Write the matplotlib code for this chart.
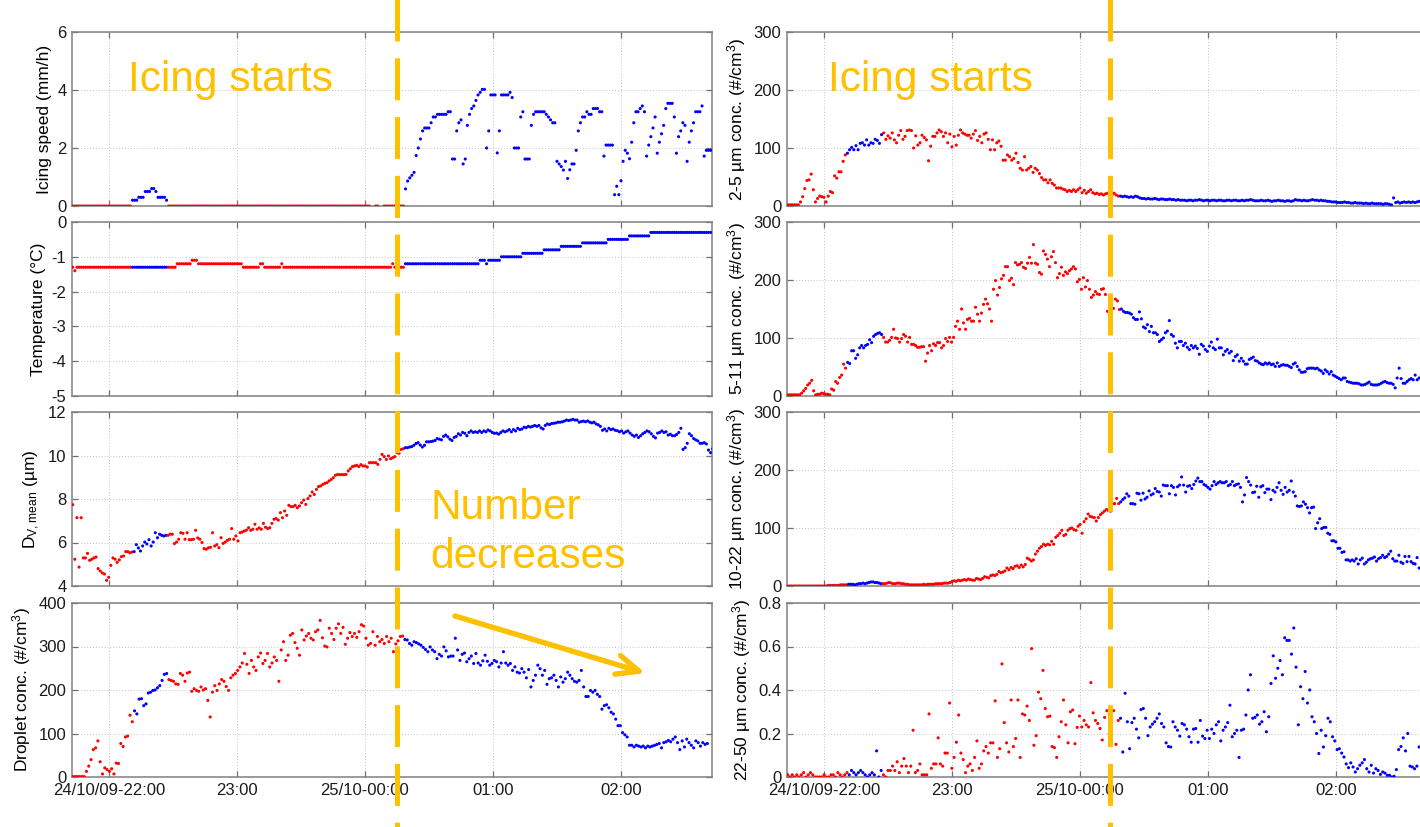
#!/usr/bin/env python3
"""
Icing event 24/25 Oct 2009: icing speed, temperature, droplet size and
droplet number concentrations, red = no icing, blue = icing.
"""
import numpy as np
import matplotlib
matplotlib.use('Agg')
import matplotlib.pyplot as plt
from matplotlib.lines import Line2D

plt.rcParams['font.family'] = ['Liberation Sans', 'DejaVu Sans']
plt.rcParams['mathtext.default'] = 'regular'
plt.rcParams['axes.unicode_minus'] = False

# ---------------------------------------------------------------- data
T0 = np.datetime64('2009-10-24T21:43')
BLUE_SPANS = [('2009-10-24T22:11', '2009-10-24T22:27:30'),
              ('2009-10-25T00:18:30', '2009-10-25T03:00')]
XTICKS = ['2009-10-24T22:00', '2009-10-24T23:00', '2009-10-25T00:00',
          '2009-10-25T01:00', '2009-10-25T02:00']
XTICK_LABELS = ['24/10/09-22:00', '23:00', '25/10-00:00', '01:00', '02:00']
XLIM = ('2009-10-24T21:42:40', '2009-10-25T02:42:40')


def expand(runs):
    return [v for v, n in runs for _ in range(n)]


# icing speed (mm/h), one value per minute
ICE_BUMP = [0.2, 0.2, 0.2, 0.3, 0.3, 0.3, 0.5, 0.5, 0.5, 0.6, 0.6, 0.5, 0.3, 0.3, 0.3, 0.3, 0.2]
ICE_AFTER = [0.59, 0.86, 0.97, 1.06, 1.16, 1.74, 2.0, 2.31, 2.59, 2.69, 2.69, 2.69, 2.87, 3.07, 3.07,
             3.16, 3.16, 3.16, 3.16, 3.16, 3.25, 3.25, 1.62, 1.62, 2.59, 2.87, 2.97, 1.45, 1.62, 2.78,
             3.16, 3.36, 3.45, 3.64, 3.83, 3.92, 4.02, 4.02, 2.0, 2.59, 3.83, 3.83, 3.83, 1.83, 2.59,
             3.83, 3.83, 3.83, 3.83, 3.92, 3.74, 2.0, 2.0, 2.0, 3.07, 3.25, 1.62, 1.62, 1.62, 2.78,
             3.16, 3.25, 3.25, 3.25, 3.25, 3.25, 3.16, 3.07, 2.97, 2.87, 2.87, 1.54, 1.45, 1.36, 1.24,
             1.54, 0.95, 1.25, 1.45, 1.45, 1.92, 2.59, 2.87, 3.07, 3.07, 3.25, 3.16, 3.16, 3.36, 3.36,
             3.36, 3.25, 3.25, 1.72, 2.1, 2.1, 2.1, 2.1, 0.39, 0.68, 0.39, 0.87, 1.54, 1.92, 1.82,
             1.63, 2.2, 2.87, 3.25, 3.25, 3.36, 3.45, 3.25, 1.72, 2.1, 2.39, 2.69, 3.07, 1.82, 2.2,
             2.49, 2.78, 3.36, 3.54, 3.54, 3.54, 3.07, 1.82, 2.39, 2.59, 2.87, 2.78, 1.54, 2.2, 2.59,
             2.87, 3.25, 3.25, 3.25, 3.45, 1.72, 1.92, 1.92, 1.92]
ICE_SPEED = (expand([(0.0, 28)]) + ICE_BUMP
             + expand([(0.0, 95), (np.nan, 2), (0.0, 2), (np.nan, 2), (0.0, 10)]) + ICE_AFTER)

# temperature (deg C), one value per minute, as (value, count) runs
TEMP_RUNS = [(-1.3, 1), (-1.4, 1), (-1.3, 47), (-1.2, 7), (-1.1, 3), (-1.2, 21), (-1.3, 8),
             (-1.2, 2), (-1.3, 8), (-1.2, 1), (-1.3, 51), (-1.2, 1), (-1.3, 5), (-1.2, 35),
             (-1.1, 3), (-1.2, 1), (-1.1, 6), (-1.0, 10), (-0.9, 10), (-0.8, 8), (-0.7, 10),
             (-0.6, 12), (-0.5, 10), (-0.4, 10), (-0.3, 29)]
TEMPERATURE = expand(TEMP_RUNS)

# median volume diameter (um)
DV_MEAN = [7.74, 5.23, 7.14, 4.87, 7.14, 5.29, 5.29, 5.50, 5.18, 5.23, 5.29, 5.33, 4.80, 4.69, 4.60,
           4.55, 4.26, 4.40, 4.95, 5.29, 5.23, 5.09, 5.20, 5.35, 5.38, 5.58, 5.58, 5.53, 5.56, 5.58,
           5.90, 5.75, 5.61, 5.84, 6.02, 5.93, 6.13, 5.84, 6.02, 6.45, 6.22, 6.38, 6.33, 6.30, 6.33,
           6.33, 6.38, 6.38, 5.95, 6.02, 6.15, 6.45, 6.42, 6.15, 6.45, 6.13, 6.13, 6.15, 6.56, 6.21,
           6.15, 6.00, 5.72, 5.69, 5.75, 5.78, 6.45, 5.84, 5.90, 5.76, 6.22, 5.96, 6.02, 6.10, 6.15,
           6.64, 6.15, 6.30, 6.07, 6.45, 6.48, 6.53, 6.57, 6.68, 6.56, 6.61, 6.84, 6.61, 6.67, 6.61,
           6.88, 6.70, 6.64, 6.68, 6.88, 7.07, 7.10, 7.03, 7.37, 7.14, 7.45, 7.25, 7.71, 7.65, 7.65,
           7.71, 7.60, 7.68, 7.83, 7.95, 7.75, 8.02, 8.14, 8.32, 8.21, 8.44, 8.57, 8.60, 8.67, 8.72,
           8.75, 8.83, 8.90, 8.98, 9.09, 9.13, 9.12, 9.12, 9.12, 9.13, 9.29, 9.39, 9.49, 9.52, 9.55,
           9.49, 9.58, 9.52, 9.52, 9.47, 9.67, 9.67, 9.67, 9.67, 9.59, 9.82, 10.05, 9.95, 9.82, 9.98,
           9.85, 9.90, 9.95, 10.13, 10.10,
           10.28, 10.31, 10.36, 10.36, 10.39, 10.41, 10.47, 10.55, 10.59, 10.48, 10.39, 10.47, 10.63,
           10.63, 10.64, 10.66, 10.69, 10.78, 10.75, 10.72, 10.88, 10.94, 10.86, 10.75, 10.69, 10.83,
           10.88, 11.0, 10.94, 11.06, 11.02, 10.91, 11.06, 11.13, 11.06, 11.09, 11.06, 11.13, 11.06,
           11.13, 11.09, 11.17, 11.13, 11.06, 11.02, 11.03, 10.98, 11.06, 11.13, 11.09, 11.13, 11.19,
           11.09, 11.19, 11.13, 11.25, 11.19, 11.22, 11.30, 11.28, 11.34, 11.31, 11.34, 11.38, 11.34,
           11.38, 11.27, 11.22, 11.38, 11.45, 11.42, 11.47, 11.48, 11.50, 11.53, 11.53, 11.55, 11.58,
           11.63, 11.61, 11.63, 11.66, 11.63, 11.63, 11.53, 11.56, 11.58, 11.55, 11.59, 11.53, 11.50,
           11.53, 11.45, 11.41, 11.34, 11.16, 11.22, 11.13, 11.25, 11.19, 11.22, 11.16, 11.14, 11.09,
           11.13, 11.03, 11.09, 11.13, 11.03, 10.94, 10.88, 10.94, 10.83, 10.91, 11.0, 11.06, 11.13,
           11.09, 11.0, 10.88, 10.81, 11.03, 11.06, 11.13, 11.06, 11.09, 10.94, 10.98, 10.91, 10.91,
           10.97, 11.06, 11.25, 10.28, 10.36, 10.56, 11.0, 10.91, 10.78, 10.72, 10.67, 10.56, 10.56,
           10.59, 10.53, 10.25, 10.13, 10.31]

# total droplet concentration (#/cm3)
DROPLET = [1, 1, 1, 1, 1, 1, 13, 25, 40, 63, 67, 83, 35, 7, 21, 17, 13, 19, 7, 32, 31, 77, 70, 92,
           94, 142, 127, 152, 145, 179, 180, 164, 168, 193, 195, 199, 200, 205, 210, 222, 236, 238,
           224, 222, 220, 214, 213, 238, 234, 220, 239, 241, 197, 203, 199, 197, 207, 200, 203, 176,
           138, 195, 210, 199, 214, 224, 220, 208, 199, 228, 234, 238, 245, 253, 262, 284, 259, 238,
           268, 253, 245, 276, 285, 261, 268, 284, 253, 262, 276, 268, 220, 292, 311, 268, 280, 326,
           330, 309, 296, 280, 338, 315, 324, 330, 319, 315, 334, 338, 360, 320, 301, 299, 342, 330,
           316, 342, 352, 330, 344, 305, 319, 332, 323, 330, 321, 334, 350, 347, 319, 303, 307, 334,
           303, 323, 311, 316, 307, 323, 311, 319, 288, 306, 313, 323, 324, 316, 315, 307, 303, 311,
           309, 306, 303, 298, 293, 288, 299, 292, 288, 272, 282, 278, 299, 290, 276, 278, 278, 319,
           292, 268, 282, 285, 265, 272, 278, 261, 284, 262, 257, 267, 280, 266, 257, 261, 268, 265,
           253, 262, 288, 262, 257, 261, 245, 253, 241, 239, 249, 241, 228, 247, 207, 222, 234, 257,
           249, 234, 245, 213, 226, 228, 234, 222, 207, 230, 218, 226, 241, 234, 226, 220, 218, 222,
           245, 207, 185, 185, 199, 195, 199, 190, 185, 156, 164, 166, 159, 149, 145, 133, 118, 118,
           102, 97, 92, 73, 73, 69, 73, 71, 69, 71, 67, 71, 69, 71, 73, 75, 77, 67, 79, 81, 84, 81,
           87, 92, 79, 63, 83, 69, 87, 79, 73, 67, 83, 79, 71, 79, 75, 77]

# 2-5 um concentration (#/cm3)
CONC_2_5 = [2, 2, 2, 2, 2, 2, 7, 16, 30, 44, 45, 55, 28, 7, 13, 17, 16, 15, 7, 17, 25, 23, 52, 48,
            59, 59, 77, 88, 91, 97, 101, 97, 104, 97, 108, 109, 105, 114, 105, 109, 108, 115, 113,
            108, 123, 126, 115, 121, 117, 126, 114, 109, 122, 130, 115, 120, 130, 131, 130, 100,
            121, 105, 109, 122, 118, 114, 78, 103, 120, 120, 126, 131, 128, 120, 126, 109, 124,
            102, 120, 105, 122, 131, 126, 124, 122, 122, 117, 124, 130, 113, 120, 109, 124, 126,
            115, 97, 114, 97, 109, 112, 103, 79, 79, 88, 85, 79, 82, 91, 75, 65, 62, 85, 62, 65, 68,
            58, 65, 62, 56, 49, 45, 45, 40, 45, 39, 36, 31, 31, 31, 29, 28, 25, 27, 25, 28, 25, 28,
            31, 23, 27, 22, 25, 28, 23, 21, 22, 20, 21, 19, 21, 22, 20, 19, 22, 19,
            17, 17, 16, 17, 16, 15, 16, 15, 17, 16, 14, 13, 13, 12, 13, 12, 12, 13, 12, 11, 12,
            12, 11, 11, 12, 11, 11, 10, 11, 10, 10, 10, 9, 10, 10, 9, 10, 10, 11, 10, 9, 10, 10, 9,
            10, 10, 9, 10, 10, 9, 9, 10, 10, 9, 10, 10, 9, 9, 10, 9, 10, 10, 11, 10, 9, 9, 9, 10, 9,
            9, 10, 9, 8, 9, 9, 10, 9, 9, 8, 9, 9, 8, 9, 11, 10, 10, 9, 10, 9, 9, 10, 11, 10, 10, 9,
            10, 9, 9, 8, 8, 7, 7, 7, 6, 6, 6, 7, 6, 6, 5, 5, 6, 5, 5, 5, 4, 5, 4, 4, 5, 4, 4, 4, 4,
            3, 4, 4, 3, 2, 14, 6, 7, 5, 6, 7, 6, 7, 6, 7, 6, 7, 8, 7, 6, 7]

# 5-11 um concentration (#/cm3)
CONC_5_11 = [2, 2, 2, 2, 2, 2, 2, 5, 9, 13, 19, 22, 27, 9, 2, 3, 3, 5, 4, 3, 3, 2, 12, 10, 25, 22,
             32, 36, 55, 48, 58, 56, 78, 78, 65, 71, 83, 87, 83, 87, 89, 97, 92, 103, 106, 108, 109,
             106, 101, 93, 93, 96, 101, 115, 100, 99, 93, 99, 106, 103, 93, 101, 89, 89, 87, 84, 84,
             85, 85, 60, 74, 87, 78, 90, 87, 92, 92, 83, 87, 99, 94, 101, 93, 101, 120, 129, 115,
             150, 126, 115, 132, 134, 129, 129, 153, 141, 129, 143, 158, 167, 159, 150, 129, 184,
             199, 174, 187, 202, 208, 223, 223, 199, 203, 192, 230, 226, 227, 230, 222, 220, 229,
             239, 229, 261, 229, 227, 213, 210, 250, 244, 236, 223, 240, 249, 230, 204, 211, 222,
             208, 214, 211, 216, 219, 223, 219, 197, 201, 184, 204, 188, 199, 184, 170, 174, 180,
             176, 175, 184, 185, 175, 146, 161, 157, 151, 167, 164, 149, 150, 146, 144, 144, 143,
             141, 135, 132, 132, 145, 133, 119, 117, 123, 111, 120, 109, 109, 106, 94, 97, 100, 109,
             112, 130, 106, 103, 91, 83, 94, 94, 87, 91, 84, 80, 87, 83, 86, 82, 72, 89, 86, 80, 77,
             86, 93, 83, 80, 98, 83, 83, 71, 77, 80, 74, 77, 61, 68, 71, 60, 65, 60, 55, 55, 63, 65,
             67, 61, 60, 57, 55, 54, 57, 55, 57, 54, 55, 51, 57, 51, 53, 54, 53, 53, 51, 49, 55, 57,
             51, 45, 41, 41, 42, 47, 48, 48, 48, 47, 48, 45, 43, 39, 45, 42, 38, 42, 36, 34, 32, 30,
             28, 31, 31, 25, 24, 23, 22, 22, 22, 21, 19, 19, 20, 22, 24, 20, 19, 19, 19, 20, 22, 24,
             25, 23, 22, 22, 20, 14, 31, 48, 30, 22, 22, 25, 28, 30, 28, 36, 28, 31]

# 10-22 um concentration (#/cm3)
CONC_10_22 = [0, 0, 0, 0, 0, 0, 0, 0, 0, 0, 0, 0, 0, 0, 0, 0, 0, 0, 0, 0, 1, 1, 1, 1,
              1, 1, 2, 2, 2, 2, 3, 3, 3, 2, 3, 4, 4, 5, 4, 5, 6, 7, 7, 6,
              6, 5, 4, 4, 4, 5, 6, 5, 4, 4, 5, 5, 4, 4, 3, 3, 2, 2, 2,
              2, 2, 2, 2, 3, 2, 3, 3, 3, 3, 4, 4, 4, 4, 5, 5, 5, 6, 8,
              9, 8, 10, 9, 10, 11, 10, 12, 11, 10, 10, 13, 12, 11, 13, 16, 15, 14, 18, 19, 18, 20,
              25, 23, 24, 26, 31, 28, 32, 30, 34, 35, 32, 36, 33, 37, 48, 46, 43, 45, 55,
              60, 65, 68, 72, 70, 72, 71, 77, 72, 84, 87, 91, 96, 87, 89, 96, 99, 100, 97, 96, 103,
              106, 91, 111, 116, 124, 120, 119,
              118, 112, 118, 123, 126, 129, 132, 130, 129, 142, 142, 151, 142, 145, 149, 152, 159,
              155, 142, 142, 141, 160, 159, 148, 160, 150, 153, 164, 157, 159, 168, 163, 162, 155,
              174, 173, 173, 159, 173, 170, 157, 171, 174, 188, 174, 162, 172, 173, 168, 175, 181,
              186, 180, 180, 175, 173, 170, 167, 173, 180, 175, 178, 180, 178, 178, 180, 173, 175,
              180, 173, 175, 176, 170, 145, 157, 187, 180, 174, 161, 162, 172, 153, 171, 173, 161,
              167, 167, 149, 165, 162, 170, 178, 165, 158, 170, 162, 165, 181, 162, 155, 138, 137,
              138, 145, 141, 135, 126, 135, 136, 99, 109, 116, 99, 101, 101, 91, 89, 78, 78, 76, 65,
              65, 58, 59, 45, 45, 43, 45, 43, 47, 38, 45, 48, 38, 41, 45, 47, 48, 50, 43, 47, 49, 53,
              49, 51, 55, 60, 47, 43, 43, 53, 41, 39, 51, 42, 51, 42, 39, 38, 49, 31]

# 22-50 um concentration (#/cm3)
CONC_22_50 = [0.01, 0, 0.01, 0, 0.01, 0, 0.01, 0.02, 0, 0.01, 0.02, 0.01, 0, 0, 0, 0, 0.01, 0, 0,
              0.01, 0.01, 0, 0.02, 0.01, 0, 0.01, 0.02, 0.01,
              0.03, 0.02, 0.01, 0.02, 0.03, 0.02, 0.01, 0.0, 0.01, 0.02, 0.01, 0.12, 0.0, 0.03,
              0.01, 0.0,
              0.03, 0.03, 0.05, 0.03, 0.07, 0.02, 0.05, 0.085, 0.05, 0.02, 0.05, 0.215, 0.02, 0.03,
              0.06, 0.01, 0.01, 0.01, 0.29, 0.04, 0.06, 0.06, 0.18, 0.06, 0.05, 0.11, 0.11, 0.34,
              0.04, 0.09, 0.16, 0.285, 0.11, 0.08, 0.02, 0.05, 0.06, 0.03, 0.09, 0.166, 0.04, 0.06,
              0.12, 0.14, 0.11, 0.157, 0.157, 0.35, 0.09, 0.13, 0.52, 0.25, 0.157, 0.115, 0.354,
              0.14, 0.177, 0.354, 0.09, 0.29, 0.285, 0.326, 0.26, 0.59, 0.146, 0.19, 0.39, 0.36,
              0.49, 0.315, 0.277, 0.28, 0.14, 0.135, 0.09, 0.185, 0.254, 0.354, 0.24, 0.157, 0.3,
              0.308, 0.153, 0.228, 0.28, 0.23, 0.26, 0.24, 0.23, 0.434, 0.295, 0.26, 0.246, 0.223,
              0.17, 0.274, 0.305, 0.197, 0.2, 0.305, 0.15,
              0.26, 0.27, 0.115, 0.385, 0.254, 0.13, 0.25, 0.27, 0.22, 0.18, 0.31, 0.315, 0.27,
              0.19, 0.23, 0.243, 0.254, 0.27, 0.29, 0.246, 0.23, 0.157, 0.14, 0.138, 0.254, 0.23,
              0.215, 0.188, 0.246, 0.24, 0.22, 0.185, 0.16, 0.22, 0.223, 0.16, 0.26, 0.188, 0.177,
              0.215, 0.177, 0.22, 0.2, 0.24, 0.254, 0.166, 0.215, 0.23, 0.25, 0.33, 0.185, 0.2,
              0.215, 0.09, 0.215, 0.22, 0.285, 0.4, 0.47, 0.27, 0.274, 0.285, 0.243, 0.254, 0.3,
              0.208, 0.277, 0.43, 0.557, 0.454, 0.5, 0.535, 0.47, 0.64, 0.628, 0.628, 0.565, 0.685,
              0.505, 0.24, 0.415, 0.36, 0.485, 0.34, 0.4, 0.277, 0.254, 0.2, 0.108, 0.215, 0.138,
              0.19, 0.27, 0.254, 0.185, 0.166, 0.126, 0.13, 0.11, 0.092, 0.06, 0.043, 0.065, 0.046,
              0.023, 0.038, 0.054, 0.065, 0.08, 0.038, 0.023, 0.054, 0.018, 0.038, 0.03, 0.012,
              0.023, 0.018, 0.008, 0.008, 0.0, 0.003, 0.034, 0.126, 0.14, 0.18, 0.12, 0.2, 0.05,
              0.046, 0.038, 0.05, 0.138]

# (values, time of last sample, y limits, y tick step, y label)
LEFT_PANELS = [
    (ICE_SPEED, '2009-10-25T02:42', (0, 6), 2, 'Icing speed (mm/h)'),
    (TEMPERATURE, '2009-10-25T02:42', (-5, 0), 1, 'Temperature (°C)'),
    (DV_MEAN, '2009-10-25T02:43', (4, 12), 2, 'D$_{V,mean}$ (µm)'),
    (DROPLET, '2009-10-25T02:40:30', (0, 400), 100, 'Droplet conc. (#/cm$^3$)'),
]
RIGHT_PANELS = [
    (CONC_2_5, '2009-10-25T02:42', (0, 300), 100, '2-5 µm conc. (#/cm$^3$)'),
    (CONC_5_11, '2009-10-25T02:39', (0, 300), 100, '5-11 µm conc. (#/cm$^3$)'),
    (CONC_10_22, '2009-10-25T02:39', (0, 300), 100, '10-22 µm conc. (#/cm$^3$)'),
    (CONC_22_50, '2009-10-25T02:39', (0, 0.8), 0.2, '22-50 µm conc. (#/cm$^3$)'),
]

ORANGE = '#ffc000'
W, H = 1420, 827
ROW_TOPS = [32, 222, 412, 603]
AX_H = 174
AX_W = 640
COL_LEFTS = [72, 787]


def sample_times(n, end):
    span = (np.datetime64(end) - T0) / np.timedelta64(1, 's')
    return T0 + np.linspace(0, span, n).astype('timedelta64[s]')


def point_colours(t):
    blue = np.zeros(len(t), bool)
    for a, b in BLUE_SPANS:
        blue |= (t >= np.datetime64(a)) & (t <= np.datetime64(b))
    return np.where(blue, '#0000ff', '#ff0000')


def fmt_tick(v):
    return '0' if v == 0 else ('%g' % v)


def main():
    fig = plt.figure(figsize=(W / 100, H / 100), dpi=100)

    for col, panels in enumerate([LEFT_PANELS, RIGHT_PANELS]):
        for row, (vals, end, ylim, step, ylabel) in enumerate(panels):
            ax = fig.add_axes([COL_LEFTS[col] / W, 1 - (ROW_TOPS[row] + AX_H) / H,
                               AX_W / W, AX_H / H])
            vals = np.asarray(vals, dtype=float)
            t = sample_times(len(vals), end)
            ax.scatter(t, vals, s=5, c=point_colours(t), linewidths=0, zorder=3)

            ax.set_xlim(np.datetime64(XLIM[0]), np.datetime64(XLIM[1]))
            ax.set_ylim(*ylim)
            yt = np.round(np.arange(ylim[0], ylim[1] + step / 2, step), 6)
            ax.set_yticks(yt, [fmt_tick(v) for v in yt])
            xt = [np.datetime64(x) for x in XTICKS]
            if row == 3:
                ax.set_xticks(xt, XTICK_LABELS)
            else:
                ax.set_xticks(xt, [''] * len(xt))
            ax.set_ylabel(ylabel, fontsize=12.5, labelpad=4)

            ax.grid(True, color='#c4c4c4', linestyle=(0, (1, 2)), linewidth=0.7)
            ax.set_axisbelow(True)
            ax.tick_params(direction='in', top=True, right=True, length=4, width=0.9,
                           color='#707070', labelsize=12, pad=4, labelcolor='#1a1a1a')
            for sp in ax.spines.values():
                sp.set_color('#808080')
                sp.set_linewidth(1.1)

    # icing start markers
    for xpx in (397, 1110):
        ln = Line2D([xpx / W, xpx / W], [1 + 37 / H, -0.01], transform=fig.transFigure,
                    color=ORANGE, linewidth=3.6, dashes=(42 * 0.72 / 3.6, 16.8 * 0.72 / 3.6))
        fig.add_artist(ln)

    for xpx in (128, 828):
        fig.text(xpx / W, 1 - 91 / H, 'Icing starts', color=ORANGE, fontsize=30.5,
                 ha='left', va='baseline')
    fig.text(430 / W, 1 - 519 / H, 'Number', color=ORANGE, fontsize=30.5,
             ha='left', va='baseline')
    fig.text(430 / W, 1 - 568 / H, 'decreases', color=ORANGE, fontsize=30.5,
             ha='left', va='baseline')

    fig.add_artist(plt.annotate(
        '', xy=(645 / W, 1 - 673 / H), xytext=(455 / W, 1 - 616 / H),
        xycoords='figure fraction', textcoords='figure fraction',
        arrowprops=dict(arrowstyle='->,head_length=0.8,head_width=0.35', color=ORANGE,
                        lw=3.6, mutation_scale=20, shrinkA=0, shrinkB=0)))

    fig.savefig('out.png', dpi=100)


if __name__ == '__main__':
    main()
